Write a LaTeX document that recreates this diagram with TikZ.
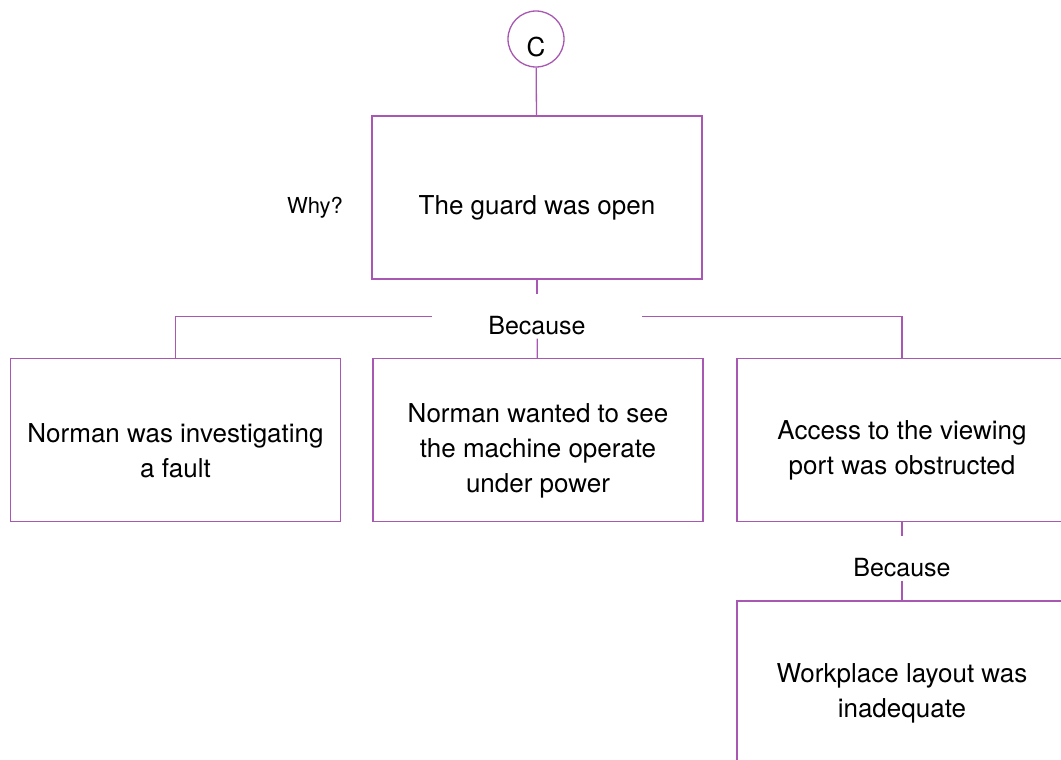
\documentclass[tikz,border=0pt]{standalone}
\usepackage{fontspec}
\setmainfont{TeX Gyre Heros}
\definecolor{whyline}{RGB}{168,88,178}
\newcommand{\boxstrut}{\rule{0pt}{40pt}}

\begin{document}
\begin{tikzpicture}[x=1pt, y=-1pt, line width=1.3pt,
    box/.style={draw=whyline, minimum width=330pt, minimum height=163pt, align=center,
        font=\fontsize{26}{35}\selectfont},
    because/.style={inner sep=0pt, minimum width=209pt, text height=39pt, text depth=4pt,
        font=\fontsize{25}{30}\selectfont},
    link/.style={draw=whyline}]
    \clip (0, 0) rectangle (1061, 760);

    \node (c) [draw=whyline, circle, minimum size=56pt, inner sep=0pt, text height=36pt, text depth=0pt,
        font=\fontsize{26}{30}\selectfont] at (536, 39) {C};
    \node (guard) [box] at (537, 197.5) {\boxstrut The guard was open};
    \node (why) [anchor=base, font=\fontsize{22}{26}\selectfont] at (315, 213) {Why?};
    \node (because1) [because] at (537, 316.5) {Because};

    \node (fault) [box] at (175.5, 440) {\boxstrut Norman was investigating\\a fault};
    \node (wanted) [box] at (538, 440) {\boxstrut Norman wanted to see\\the machine operate\\under power};
    \node (access) [box] at (902, 440) {\boxstrut Access to the viewing\\port was obstructed};

    \node (because2) [because] at (902, 558.5) {Because};
    \node (layout) [box] at (902, 682.5) {\boxstrut Workplace layout was\\inadequate};

    \draw[link] (c) -- (guard);
    \draw[link] (guard) -- (because1);
    \draw[link] (because1) -- (wanted);
    \draw[link] (because1.west) -| (fault);
    \draw[link] (because1.east) -| (access);
    \draw[link] (access) -- (because2);
    \draw[link] (because2) -- (layout);
\end{tikzpicture}
\end{document}
